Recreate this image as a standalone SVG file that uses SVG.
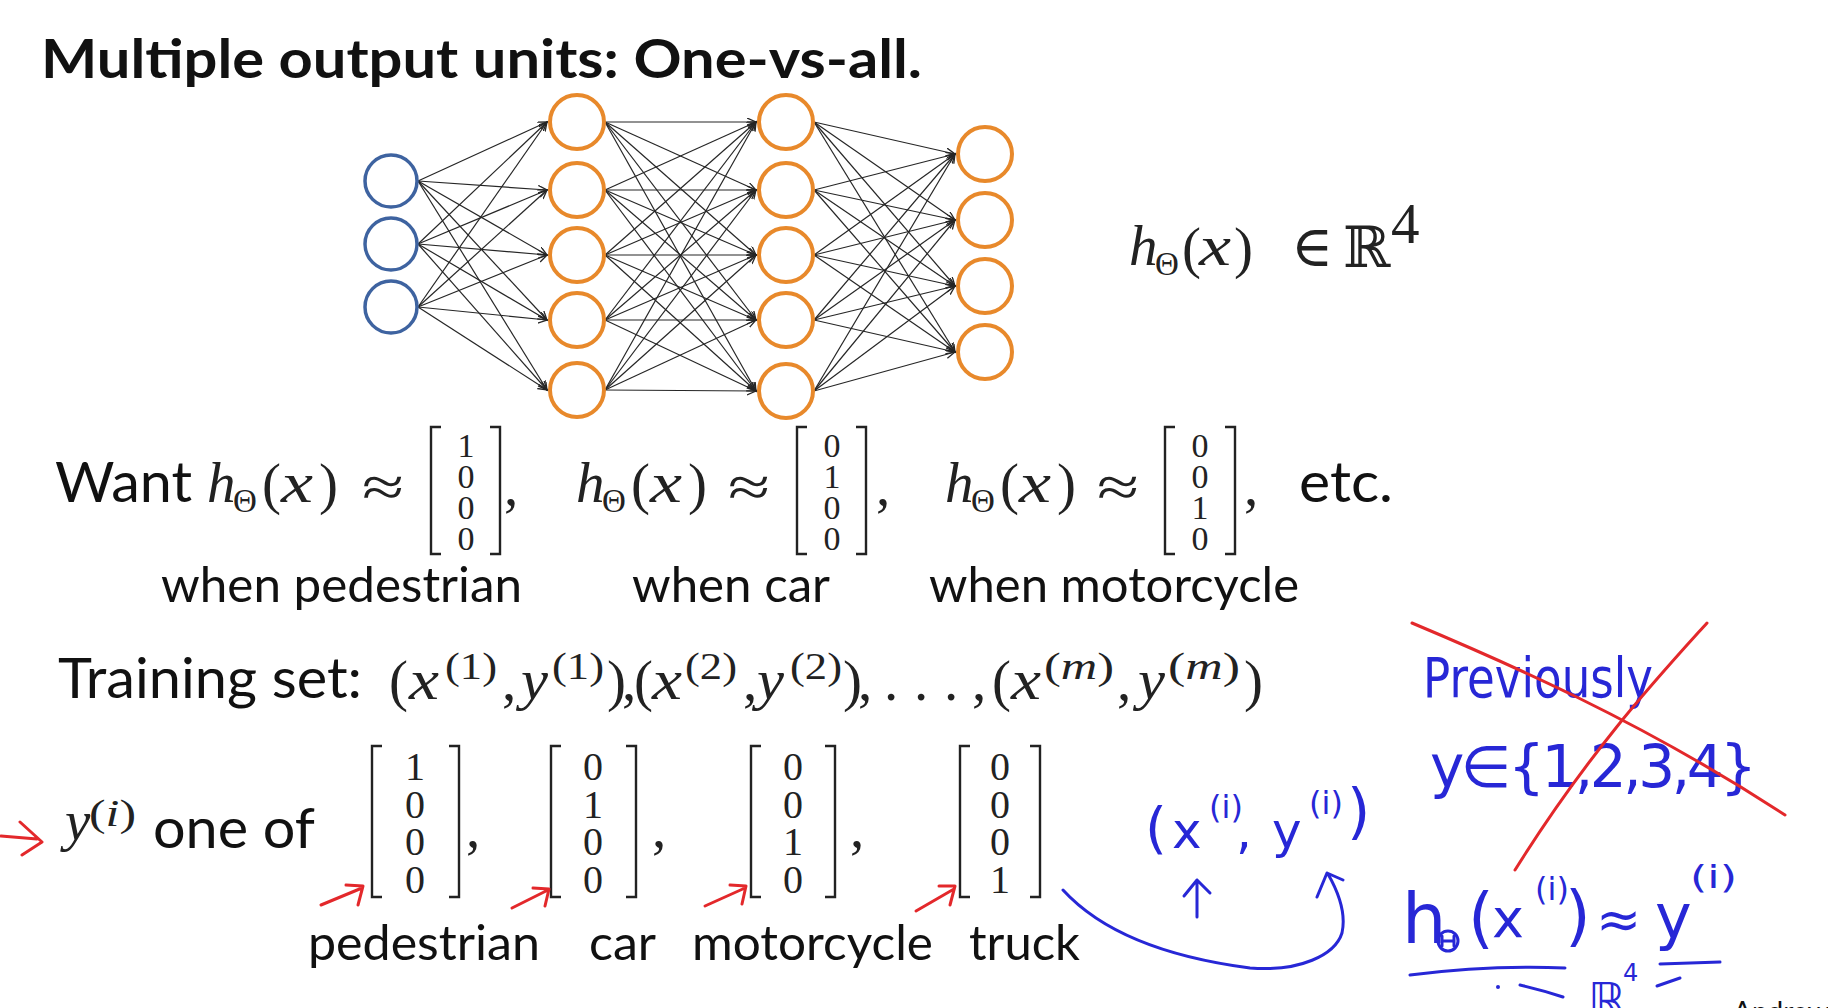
<svg xmlns="http://www.w3.org/2000/svg" width="1828" height="1008" viewBox="0 0 1828 1008">
<defs>
<style>
.sans{font-family:Lato,'Liberation Sans',sans-serif;fill:#111}
.title{font-weight:bold;font-size:53px}
.row{font-size:57px}
.lbl{font-size:48px}
.m{font-family:'Liberation Serif','DejaVu Serif',serif;fill:#222;font-size:57px}
.it{font-style:italic}
.sup{font-size:37px}
.sub{font-size:33px}
.d1{font-size:34px;text-anchor:middle}
.d2{font-size:40px;text-anchor:middle}
.br{stroke:#222;stroke-width:2.4;fill:none}
.hand{font-family:'DejaVu Sans',sans-serif;fill:#2727d6}
.bs{stroke:#2727d6;stroke-width:3;fill:none;stroke-linecap:round;stroke-linejoin:round}
.rs{stroke:#e3282b;stroke-width:3;fill:none;stroke-linecap:round;stroke-linejoin:round}
.in{fill:#fff;stroke:#3e63a0;stroke-width:3.5}
.hid{fill:#fff;stroke:#e8892b;stroke-width:4}
.edge{stroke:#262626;stroke-width:1.2;fill:none;marker-end:url(#ah)}
</style>
<marker id="ah" markerUnits="userSpaceOnUse" markerWidth="12" markerHeight="10" refX="9" refY="4" orient="auto">
<path d="M0,0 L9,4 L0,8" fill="none" stroke="#262626" stroke-width="1.3"/>
</marker>
</defs>
<rect width="1828" height="1008" fill="#fff"/>

<text class="sans title" x="41" y="78" textLength="881" lengthAdjust="spacingAndGlyphs">Multiple output units: One-vs-all.</text>

<g id="connectors">
<line class="edge" x1="418" y1="181" x2="547" y2="122"/>
<line class="edge" x1="418" y1="181" x2="547" y2="190"/>
<line class="edge" x1="418" y1="181" x2="547" y2="255"/>
<line class="edge" x1="418" y1="181" x2="547" y2="320"/>
<line class="edge" x1="418" y1="181" x2="547" y2="390"/>
<line class="edge" x1="418" y1="244" x2="547" y2="122"/>
<line class="edge" x1="418" y1="244" x2="547" y2="190"/>
<line class="edge" x1="418" y1="244" x2="547" y2="255"/>
<line class="edge" x1="418" y1="244" x2="547" y2="320"/>
<line class="edge" x1="418" y1="244" x2="547" y2="390"/>
<line class="edge" x1="418" y1="307" x2="547" y2="122"/>
<line class="edge" x1="418" y1="307" x2="547" y2="190"/>
<line class="edge" x1="418" y1="307" x2="547" y2="255"/>
<line class="edge" x1="418" y1="307" x2="547" y2="320"/>
<line class="edge" x1="418" y1="307" x2="547" y2="390"/>

<line class="edge" x1="605" y1="122" x2="756" y2="122"/>
<line class="edge" x1="605" y1="122" x2="756" y2="190"/>
<line class="edge" x1="605" y1="122" x2="756" y2="255"/>
<line class="edge" x1="605" y1="122" x2="756" y2="320"/>
<line class="edge" x1="605" y1="122" x2="756" y2="391"/>
<line class="edge" x1="605" y1="190" x2="756" y2="122"/>
<line class="edge" x1="605" y1="190" x2="756" y2="190"/>
<line class="edge" x1="605" y1="190" x2="756" y2="255"/>
<line class="edge" x1="605" y1="190" x2="756" y2="320"/>
<line class="edge" x1="605" y1="190" x2="756" y2="391"/>
<line class="edge" x1="605" y1="255" x2="756" y2="122"/>
<line class="edge" x1="605" y1="255" x2="756" y2="190"/>
<line class="edge" x1="605" y1="255" x2="756" y2="255"/>
<line class="edge" x1="605" y1="255" x2="756" y2="320"/>
<line class="edge" x1="605" y1="255" x2="756" y2="391"/>
<line class="edge" x1="605" y1="320" x2="756" y2="122"/>
<line class="edge" x1="605" y1="320" x2="756" y2="190"/>
<line class="edge" x1="605" y1="320" x2="756" y2="255"/>
<line class="edge" x1="605" y1="320" x2="756" y2="320"/>
<line class="edge" x1="605" y1="320" x2="756" y2="391"/>
<line class="edge" x1="605" y1="390" x2="756" y2="122"/>
<line class="edge" x1="605" y1="390" x2="756" y2="190"/>
<line class="edge" x1="605" y1="390" x2="756" y2="255"/>
<line class="edge" x1="605" y1="390" x2="756" y2="320"/>
<line class="edge" x1="605" y1="390" x2="756" y2="391"/>

<line class="edge" x1="814" y1="122" x2="955" y2="154"/>
<line class="edge" x1="814" y1="122" x2="955" y2="220"/>
<line class="edge" x1="814" y1="122" x2="955" y2="286"/>
<line class="edge" x1="814" y1="122" x2="955" y2="352"/>
<line class="edge" x1="814" y1="190" x2="955" y2="154"/>
<line class="edge" x1="814" y1="190" x2="955" y2="220"/>
<line class="edge" x1="814" y1="190" x2="955" y2="286"/>
<line class="edge" x1="814" y1="190" x2="955" y2="352"/>
<line class="edge" x1="814" y1="255" x2="955" y2="154"/>
<line class="edge" x1="814" y1="255" x2="955" y2="220"/>
<line class="edge" x1="814" y1="255" x2="955" y2="286"/>
<line class="edge" x1="814" y1="255" x2="955" y2="352"/>
<line class="edge" x1="814" y1="320" x2="955" y2="154"/>
<line class="edge" x1="814" y1="320" x2="955" y2="220"/>
<line class="edge" x1="814" y1="320" x2="955" y2="286"/>
<line class="edge" x1="814" y1="320" x2="955" y2="352"/>
<line class="edge" x1="814" y1="391" x2="955" y2="154"/>
<line class="edge" x1="814" y1="391" x2="955" y2="220"/>
<line class="edge" x1="814" y1="391" x2="955" y2="286"/>
<line class="edge" x1="814" y1="391" x2="955" y2="352"/>
</g>

<g id="input-1"><circle class="in" cx="391" cy="181" r="26"/></g>
<g id="input-2"><circle class="in" cx="391" cy="244" r="26"/></g>
<g id="input-3"><circle class="in" cx="391" cy="307" r="26"/></g>
<g id="h1-1"><circle class="hid" cx="577" cy="122" r="27"/></g>
<g id="h1-2"><circle class="hid" cx="577" cy="190" r="27"/></g>
<g id="h1-3"><circle class="hid" cx="577" cy="255" r="27"/></g>
<g id="h1-4"><circle class="hid" cx="577" cy="320" r="27"/></g>
<g id="h1-5"><circle class="hid" cx="577" cy="390" r="27"/></g>
<g id="h2-1"><circle class="hid" cx="786" cy="122" r="27"/></g>
<g id="h2-2"><circle class="hid" cx="786" cy="190" r="27"/></g>
<g id="h2-3"><circle class="hid" cx="786" cy="255" r="27"/></g>
<g id="h2-4"><circle class="hid" cx="786" cy="320" r="27"/></g>
<g id="h2-5"><circle class="hid" cx="786" cy="391" r="27"/></g>
<g id="out-1"><circle class="hid" cx="985" cy="154" r="27"/></g>
<g id="out-2"><circle class="hid" cx="985" cy="220" r="27"/></g>
<g id="out-3"><circle class="hid" cx="985" cy="286" r="27"/></g>
<g id="out-4"><circle class="hid" cx="985" cy="352" r="27"/></g>

<!-- h(x) in R^4 -->
<g id="hx-r4">
<text class="m it" x="1129" y="265" font-size="60">h</text>
<text class="m sub" x="1155" y="275">Θ</text>
<text class="m" x="1182" y="267" font-size="60">(</text>
<text class="m it" x="1199" y="265" textLength="32" lengthAdjust="spacingAndGlyphs">x</text>
<text class="m" x="1234" y="267" font-size="60">)</text>
<text class="m" x="1291" y="266" font-family="'DejaVu Serif',serif" font-size="50">∈</text>
<text class="m" x="1343" y="267" font-family="'DejaVu Serif',serif" font-size="46">ℝ</text>
<text class="m" x="1391" y="243" font-size="31">4</text>
</g>

<!-- Want row -->
<g id="want-row">
<text class="sans row" x="55" y="502" textLength="137" lengthAdjust="spacingAndGlyphs">Want</text>
<text class="m it" x="207" y="502">h</text>
<text class="m sub" x="233" y="512">Θ</text>
<text class="m" x="262" y="503">(</text>
<text class="m it" x="281" y="502" textLength="32" lengthAdjust="spacingAndGlyphs">x</text>
<text class="m" x="319" y="503">)</text>
<text class="m" x="362" y="506" font-size="56" textLength="42" lengthAdjust="spacingAndGlyphs">≈</text>
<path class="br" d="M441,427 H431 V554 H441 M490,427 H500 V554 H490"/>
<text class="m d1" x="466" y="457">1</text><text class="m d1" x="466" y="488">0</text><text class="m d1" x="466" y="519">0</text><text class="m d1" x="466" y="550">0</text>
<text class="m" x="504" y="505">,</text>

<text class="m it" x="576" y="502">h</text>
<text class="m sub" x="602" y="512">Θ</text>
<text class="m" x="631" y="503">(</text>
<text class="m it" x="650" y="502" textLength="32" lengthAdjust="spacingAndGlyphs">x</text>
<text class="m" x="688" y="503">)</text>
<text class="m" x="728" y="506" font-size="56" textLength="42" lengthAdjust="spacingAndGlyphs">≈</text>
<path class="br" d="M807,427 H797 V554 H807 M856,427 H866 V554 H856"/>
<text class="m d1" x="832" y="457">0</text><text class="m d1" x="832" y="488">1</text><text class="m d1" x="832" y="519">0</text><text class="m d1" x="832" y="550">0</text>
<text class="m" x="876" y="505">,</text>

<text class="m it" x="945" y="502">h</text>
<text class="m sub" x="971" y="512">Θ</text>
<text class="m" x="1000" y="503">(</text>
<text class="m it" x="1019" y="502" textLength="32" lengthAdjust="spacingAndGlyphs">x</text>
<text class="m" x="1057" y="503">)</text>
<text class="m" x="1097" y="506" font-size="56" textLength="42" lengthAdjust="spacingAndGlyphs">≈</text>
<path class="br" d="M1175,427 H1165 V554 H1175 M1225,427 H1235 V554 H1225"/>
<text class="m d1" x="1200" y="457">0</text><text class="m d1" x="1200" y="488">0</text><text class="m d1" x="1200" y="519">1</text><text class="m d1" x="1200" y="550">0</text>
<text class="m" x="1244" y="505">,</text>
<text class="sans row" x="1299" y="502" textLength="94" lengthAdjust="spacingAndGlyphs">etc.</text>

<text class="sans lbl" x="161" y="602" textLength="361" lengthAdjust="spacingAndGlyphs">when pedestrian</text>
<text class="sans lbl" x="632" y="602" textLength="198" lengthAdjust="spacingAndGlyphs">when car</text>
<text class="sans lbl" x="929" y="602" textLength="370" lengthAdjust="spacingAndGlyphs">when motorcycle</text>
</g>

<!-- Training set -->
<g id="training-set">
<text class="sans row" x="58" y="698" textLength="304" lengthAdjust="spacingAndGlyphs">Training set:</text>
<text class="m" y="700">
<tspan x="389">(</tspan><tspan x="502">,</tspan><tspan x="607">)</tspan><tspan x="622">,</tspan>
<tspan x="634">(</tspan><tspan x="743">,</tspan><tspan x="843">)</tspan><tspan x="858">,</tspan>
<tspan x="884">.</tspan><tspan x="914">.</tspan><tspan x="944">.</tspan><tspan x="972">,</tspan>
<tspan x="992">(</tspan><tspan x="1117">,</tspan><tspan x="1244">)</tspan>
</text>
<text class="m it" x="409" y="699" textLength="30" lengthAdjust="spacingAndGlyphs">x</text>
<text class="m it" x="521" y="699" textLength="27" lengthAdjust="spacingAndGlyphs">y</text>
<text class="m it" x="652" y="699" textLength="30" lengthAdjust="spacingAndGlyphs">x</text>
<text class="m it" x="757" y="699" textLength="27" lengthAdjust="spacingAndGlyphs">y</text>
<text class="m it" x="1011" y="699" textLength="30" lengthAdjust="spacingAndGlyphs">x</text>
<text class="m it" x="1138" y="699" textLength="27" lengthAdjust="spacingAndGlyphs">y</text>
<text class="m sup" x="445" y="679" textLength="52" lengthAdjust="spacingAndGlyphs">(1)</text>
<text class="m sup" x="552" y="679" textLength="52" lengthAdjust="spacingAndGlyphs">(1)</text>
<text class="m sup" x="685" y="679" textLength="52" lengthAdjust="spacingAndGlyphs">(2)</text>
<text class="m sup" x="790" y="679" textLength="52" lengthAdjust="spacingAndGlyphs">(2)</text>
<text class="m sup" x="1044" y="679" textLength="70" lengthAdjust="spacingAndGlyphs">(<tspan class="it">m</tspan>)</text>
<text class="m sup" x="1168" y="679" textLength="72" lengthAdjust="spacingAndGlyphs">(<tspan class="it">m</tspan>)</text>
</g>

<!-- y(i) one of -->
<g id="one-of-row">
<path class="rs" d="M1,836 L37,839 M20,822 L42,842 L22,855"/>
<text class="m it" x="65" y="840" font-size="56">y</text>
<text class="m sup" x="89" y="826" textLength="47" lengthAdjust="spacingAndGlyphs">(<tspan class="it">i</tspan>)</text>
<text class="sans row" x="153" y="848" textLength="162" lengthAdjust="spacingAndGlyphs">one of</text>

<path class="br" d="M382,746 H372 V897 H382 M449,746 H459 V897 H449"/>
<text class="m d2" x="415" y="780">1</text><text class="m d2" x="415" y="818">0</text><text class="m d2" x="415" y="855">0</text><text class="m d2" x="415" y="893">0</text>
<text class="m" x="466" y="847">,</text>

<path class="br" d="M561,746 H551 V897 H561 M626,746 H636 V897 H626"/>
<text class="m d2" x="593" y="780">0</text><text class="m d2" x="593" y="818">1</text><text class="m d2" x="593" y="855">0</text><text class="m d2" x="593" y="893">0</text>
<text class="m" x="652" y="847">,</text>

<path class="br" d="M761,746 H751 V897 H761 M825,746 H835 V897 H825"/>
<text class="m d2" x="793" y="780">0</text><text class="m d2" x="793" y="818">0</text><text class="m d2" x="793" y="855">1</text><text class="m d2" x="793" y="893">0</text>
<text class="m" x="850" y="847">,</text>

<path class="br" d="M970,746 H960 V897 H970 M1030,746 H1040 V897 H1030"/>
<text class="m d2" x="1000" y="780">0</text><text class="m d2" x="1000" y="818">0</text><text class="m d2" x="1000" y="855">0</text><text class="m d2" x="1000" y="893">1</text>

<path class="rs" d="M321,905 L362,888 M346,885 L363,886 L358,905"/>
<path class="rs" d="M512,908 L548,890 M533,888 L549,889 L545,906"/>
<path class="rs" d="M705,906 L745,888 M730,885 L746,886 L742,904"/>
<path class="rs" d="M916,911 L954,889 M939,886 L955,886 L950,905"/>

<text class="sans lbl" x="308" y="960" textLength="232" lengthAdjust="spacingAndGlyphs">pedestrian</text>
<text class="sans lbl" x="589" y="960" textLength="67" lengthAdjust="spacingAndGlyphs">car</text>
<text class="sans lbl" x="692" y="960" textLength="241" lengthAdjust="spacingAndGlyphs">motorcycle</text>
<text class="sans lbl" x="969" y="960" textLength="111" lengthAdjust="spacingAndGlyphs">truck</text>
</g>

<!-- blue handwritten (x(i), y(i)) -->
<g id="xy-pair">
<text class="hand" x="1145" y="847" font-size="56">(</text>
<text class="hand" x="1172" y="848" font-size="50">x</text>
<text class="hand" x="1209" y="818" font-size="32">(i)</text>
<text class="hand" x="1236" y="848" font-size="50">,</text>
<text class="hand" x="1272" y="848" font-size="50">y</text>
<text class="hand" x="1309" y="814" font-size="32">(i)</text>
<text class="hand" x="1347" y="832" font-size="60">)</text>
<path class="bs" d="M1197,917 L1197,880 M1184,896 L1197,880 L1210,893"/>
<path class="bs" d="M1063,890 C1095,925 1150,955 1250,968 C1300,972 1335,955 1342,933 C1346,915 1340,895 1328,874 M1317,897 L1327,873 L1343,880"/>
</g>

<!-- crossed out "Previously" -->
<g id="previously">
<text class="hand" x="1423" y="697" font-size="56" textLength="230" lengthAdjust="spacingAndGlyphs">Previously</text>
<text class="hand" x="1430" y="787" font-size="58" textLength="327" lengthAdjust="spacing">y∈{1,2,3,4}</text>
<path class="rs" d="M1412,623 C1500,660 1640,720 1785,815"/>
<path class="rs" d="M1707,623 C1660,675 1590,750 1515,870"/>
</g>

<!-- h(x(i)) ≈ y(i) -->
<g id="approx-note">
<text class="hand" x="1402" y="943" font-size="70">h</text>
<circle cx="1448" cy="941" r="10" class="bs" stroke-width="2.5"/>
<path class="bs" stroke-width="2.5" d="M1442,936 V946 M1454,936 V946 M1442,941 H1454"/>
<text class="hand" x="1468" y="940" font-size="66">(</text>
<text class="hand" x="1492" y="937" font-size="54">x</text>
<text class="hand" x="1535" y="900" font-size="32">(i)</text>
<text class="hand" x="1565" y="938" font-size="66">)</text>
<text class="hand" x="1596" y="938" font-size="54">≈</text>
<text class="hand" x="1655" y="938" font-size="62">y</text>
<text class="hand" x="1690" y="888" font-size="32" textLength="47" lengthAdjust="spacingAndGlyphs">(i)</text>
<path class="bs" d="M1410,975 Q1490,965 1565,968"/>
<path class="bs" d="M1660,964 L1720,962"/>
<circle cx="1498" cy="987" r="2" fill="#2727d6"/>
<path class="bs" d="M1520,985 Q1542,990 1563,997"/>
<text class="hand" x="1588" y="1017" font-size="48">ℝ</text>
<text class="hand" x="1623" y="981" font-size="24">4</text>
<path class="bs" d="M1657,986 L1680,978"/>
</g>

<text class="sans" x="1733" y="1022" font-size="28" fill="#333">Andrew Ng</text>
</svg>
